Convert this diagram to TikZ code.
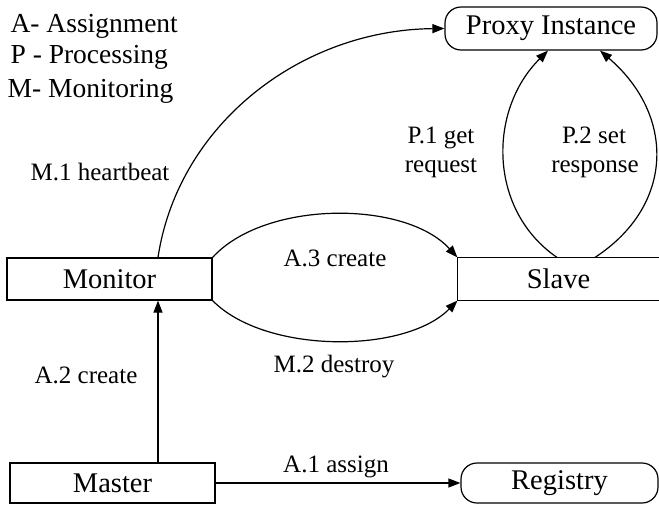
\documentclass[tikz,border=0pt]{standalone}
\usepackage{fontspec}
\setmainfont{Liberation Serif}
\usetikzlibrary{arrows.meta}
\begin{document}
\begin{tikzpicture}[x=1pt,y=-1pt,
  line width=1.2pt,
  arr/.style={-{Triangle[length=12pt,width=9pt]}},
  boxfont/.style={font=\fontsize{28.5}{32}\selectfont},
  lblfont/.style={font=\fontsize{25}{29}\selectfont},
  sqbox/.style={draw,boxfont,inner sep=0pt,minimum width=205pt,minimum height=42pt},
  rndbox/.style={draw,boxfont,inner sep=0pt,rounded corners=16pt},
  lbl/.style={lblfont,inner sep=0pt,anchor=base},
  legend/.style={font=\fontsize{27.5}{31}\selectfont,inner sep=0pt,anchor=base west}]
\useasboundingbox (0,0) rectangle (659,504);

% legend
\node[legend] (legA) at (10,32) {A- Assignment};
\node[legend] (legP) at (10,63) {P - Processing};
\node[legend] (legM) at (7,97) {M- Monitoring};

% components
\node[sqbox] (monitor) at (109.5,279) {Monitor};
\node[sqbox,minimum height=40pt] (master) at (112.5,483) {Master};
\node[boxfont,inner sep=0pt,minimum width=201pt,minimum height=42pt] (slave) at (558.5,279) {Slave};
\draw (slave.north east) -- (slave.north west) -- (slave.south west) -- (slave.south east);
\node[rndbox,minimum width=212pt,minimum height=43pt] (proxy) at (551,28.5) {Proxy Instance};
\node[rndbox,minimum width=197pt,minimum height=40pt] (registry) at (559.5,483) {Registry};

% monitoring heartbeat
\draw[arr] ([xshift=48.5pt]monitor.north) .. controls (178,125) and (300,30) .. (proxy.west);
\node[lbl] (m1) at (100,180) {M.1 heartbeat};

% slave creation and destruction
\draw[arr] (monitor.north east) .. controls (265,200) and (405,200) .. (slave.north west);
\draw[arr] (monitor.south east) .. controls (265,354) and (405,354) .. (slave.south west);
\node[lbl] (a3) at (335,266) {A.3 create};
\node[lbl] (m2) at (334,372) {M.2 destroy};

% request processing
\draw[arr] ([xshift=-1.5pt]slave.north) .. controls (488,210) and (488,110) .. ([xshift=-3pt]proxy.south);
\draw[arr] ([xshift=36.5pt]slave.north) .. controls (675,205) and (675,115) .. ([xshift=49pt]proxy.south);
\node[lbl] (p1a) at (441,143) {P.1 get};
\node[lbl] (p1b) at (441,172) {request};
\node[lbl] (p2a) at (594,143) {P.2 set};
\node[lbl] (p2b) at (595,172) {response};

% assignment
\draw[arr] ([xshift=45.5pt]master.north) -- ([xshift=48.5pt]monitor.south);
\node[lbl] (a2) at (86,383) {A.2 create};
\draw[arr] (master.east) -- (registry.west);
\node[lbl] (a1) at (336,472) {A.1 assign};
\end{tikzpicture}
\end{document}
